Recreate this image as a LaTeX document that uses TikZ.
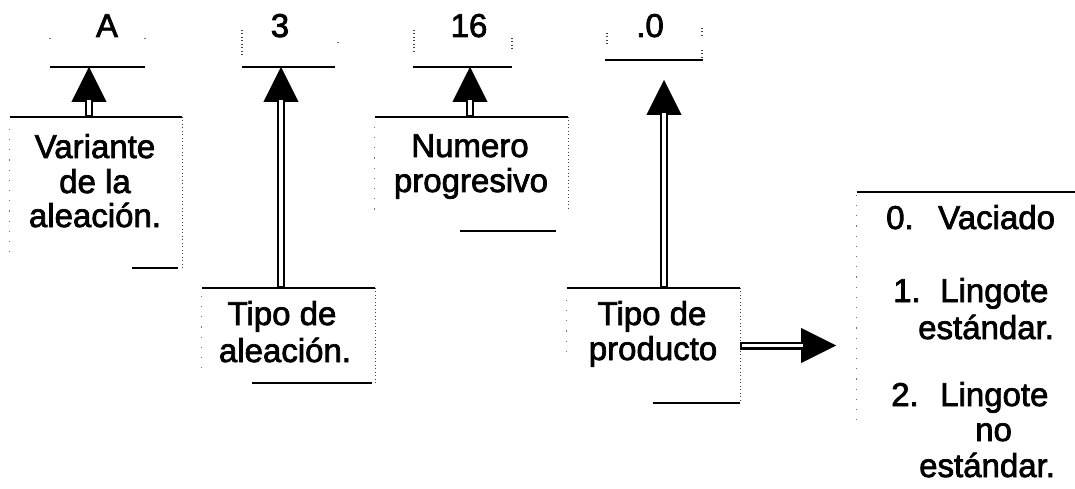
\documentclass[tikz,border=0pt]{standalone}
\usepackage{fontspec}
\setmainfont{Liberation Sans}[FakeBold=2.2]
\usetikzlibrary{arrows.meta}
\begin{document}
\begin{tikzpicture}[x=1pt,y=-1pt,
  txt/.style={font=\fontsize{33}{35}\selectfont, inner sep=0pt, anchor=base},
  area/.style={draw=none, inner sep=0pt, minimum width=#1},
  topline/.style={line width=2pt},
  botline/.style={line width=1.5pt},
  rdots/.style={line width=1.3pt, black!75, dash pattern=on 1pt off 2.5pt},
  ldots/.style={line width=1.3pt, black!55, dash pattern=on 1.2pt off 9pt},
  arr/.style={line width=8pt, -{Triangle[length=35pt,width=35pt,line width=0.4pt]},
    postaction={draw=white, line width=3.2pt, -, shorten >=33pt, shorten <=1.5pt}}
]
\useasboundingbox (0,0) rectangle (1075,489);
\fill[white] (0,0) rectangle (1075,489);

% ---------- top labels ----------
\node[area=95pt, minimum height=39pt] (labA) at (97.5,47.5) {};
\node[area=93pt, minimum height=39pt] (lab3) at (288.5,47.5) {};
\node[area=99pt, minimum height=39pt] (lab16) at (462.5,47.5) {};
\node[area=98pt, minimum height=32pt] (lab0) at (654,44) {};
\node[txt] (tA)  at (107,37) {A};
\node[txt] (t3)  at (280,37) {3};
\node[txt] (t16) at (469,37) {16};
\node[txt] (t0)  at (650,37) {.0};
\foreach \n in {labA,lab3,lab16,lab0}{
  \draw[botline] (\n.south west) -- (\n.south east);
}
\draw[ldots] (50,38) -- (50,44);
\draw[ldots] (145,38) -- (145,44);
\draw[rdots] (242,30) -- (242,56);
\draw[ldots] (338,42) -- (338,48);
\draw[rdots] (414,30) -- (414,52);
\draw[rdots] (512,38) -- (512,52);
\draw[rdots] (607,33) -- (607,46);
\draw[rdots] (702,28) -- (702,36);
\draw[rdots] (702,50) -- (702,58);

% ---------- box: Variante ----------
\node[area=172pt, minimum height=151pt] (varbox) at (96,192.5) {};
\draw[topline] (varbox.north west) -- (varbox.north east);
\draw[rdots] (varbox.north east) -- (varbox.south east);
\draw[ldots] ([yshift=-12pt]varbox.north west) -- ([yshift=8pt]varbox.south west);
\draw[botline] ([xshift=-50pt]varbox.south east) -- ([xshift=-4pt]varbox.south east);
\node[txt] (v1) at (95,158) {Variante};
\node[txt] (v2) at (95,193) {de la};
\node[txt] (v3) at (95,227) {aleación.};

% ---------- box: Tipo de aleacion ----------
\node[area=173pt, minimum height=95pt] (alebox) at (288.5,335.5) {};
\draw[topline] (alebox.north west) -- (alebox.north east);
\draw[rdots] (alebox.north east) -- (alebox.south east);
\draw[ldots] ([yshift=-8pt]alebox.north west) -- ([yshift=6pt]alebox.south west);
\draw[botline] ([xshift=-123pt]alebox.south east) -- ([xshift=-3pt]alebox.south east);
\node[txt] (a1) at (282,325) {Tipo de};
\node[txt] (a2) at (285,362) {aleación.};

% ---------- box: Numero progresivo ----------
\node[area=193pt, minimum height=114pt] (numbox) at (471.5,174) {};
\draw[topline] (numbox.north west) -- (numbox.north east);
\draw[rdots] (numbox.north east) -- ([yshift=20pt]numbox.south east);
\draw[ldots] ([yshift=-10pt]numbox.north west) -- ([yshift=20pt]numbox.south west);
\draw[botline] ([xshift=-108pt]numbox.south east) -- ([xshift=-12pt]numbox.south east);
\node[txt] (n1) at (470,157) {Numero};
\node[txt] (n2) at (471,192) {progresivo};

% ---------- box: Tipo de producto ----------
\node[area=173pt, minimum height=115pt] (prodbox) at (653.5,345.5) {};
\draw[topline] (prodbox.north west) -- (prodbox.north east);
\draw[rdots] (prodbox.north east) -- (prodbox.south east);
\draw[ldots] ([yshift=-12pt]prodbox.north west) -- ([yshift=50pt]prodbox.south west);
\draw[botline] ([xshift=-87pt]prodbox.south east) -- (prodbox.south east);
\node[txt] (p1) at (652,325) {Tipo de};
\node[txt] (p2) at (653,360) {producto};

% ---------- box: list ----------
\node[area=218pt, minimum height=297pt] (listbox) at (966,340.5) {};
\draw[topline] (listbox.north west) -- (listbox.north east);
\draw[ldots] ([yshift=-3pt]listbox.north west) -- ([yshift=65pt]listbox.south west);
\node[txt, anchor=base west] (l0n) at (886,229) {0.};
\node[txt, anchor=base west] (l0t) at (938,229) {Vaciado};
\node[txt, anchor=base west] (l1n) at (893,302) {1.};
\node[txt, anchor=base west] (l1t) at (940,302) {Lingote};
\node[txt, anchor=base west] (l1u) at (918,339) {estándar.};
\node[txt, anchor=base west] (l2n) at (891,406) {2.};
\node[txt, anchor=base west] (l2t) at (940,406) {Lingote};
\node[txt, anchor=base west] (l2u) at (975,441) {no};
\node[txt, anchor=base west] (l2v) at (919,477) {estándar.};

% ---------- connectors ----------
\coordinate (hA) at (89,67);
\coordinate (h3) at (281,67);
\coordinate (h16) at (470,67);
\coordinate (h0) at (664,80);
\coordinate (hP) at (836,345.5);
\draw[arr] (hA |- varbox.north) -- (hA);
\draw[arr] (h3 |- alebox.north) -- (h3);
\draw[arr] (h16 |- numbox.north) -- (h16);
\draw[arr] (h0 |- prodbox.north) -- (h0);
\draw[arr] (prodbox.east) -- (hP);
\end{tikzpicture}
\end{document}
